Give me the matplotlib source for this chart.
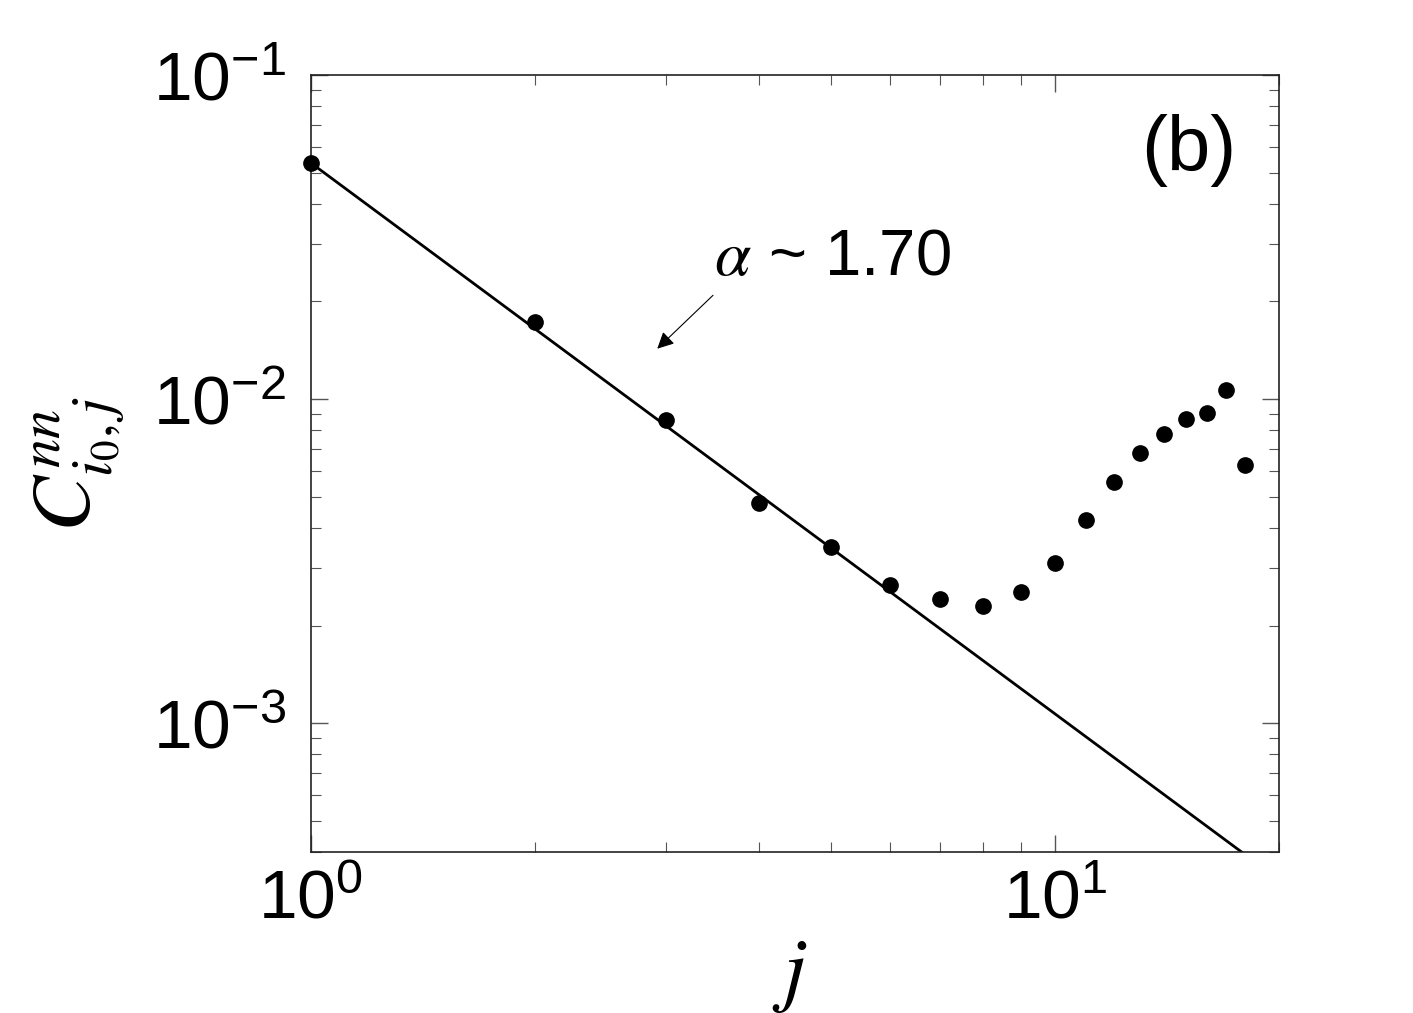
import matplotlib
matplotlib.use("Agg")
import matplotlib.pyplot as plt
import numpy as np

plt.rcParams['font.family'] = ['Liberation Sans', 'DejaVu Sans']
plt.rcParams['mathtext.fontset'] = 'custom'
plt.rcParams['mathtext.rm'] = 'Liberation Sans'
plt.rcParams['mathtext.it'] = 'Liberation Sans:italic'

# data
j = [1, 2, 3, 4, 5, 6, 7, 8, 9, 10, 11, 12, 13, 14, 15, 16, 17, 18]
corr = [0.0535, 0.01732, 0.00860, 0.00477, 0.00350, 0.00267, 0.00242,
        0.00229, 0.00254, 0.00311, 0.00422, 0.00553, 0.00680, 0.00778,
        0.00868, 0.00907, 0.01064, 0.00624]

# power-law fit C ~ A * j^-alpha
fit_amp = 0.0535
fit_alpha = 1.70
fit_j = np.array([1.0, 18.0])

fig = plt.figure(figsize=(14.13, 10.13), dpi=100)
ax = fig.add_axes([311 / 1413, 1 - 852 / 1013, (1279 - 311) / 1413, (852 - 75) / 1013])

ax.plot(fit_j, fit_amp * fit_j ** (-fit_alpha), color='black', linewidth=2.0, zorder=2)
ax.plot(j, corr, 'o', color='black', markersize=11, zorder=3, clip_on=False)

ax.set_xscale('log')
ax.set_yscale('log')
ax.set_xlim(1, 20)
ax.set_ylim(4e-4, 1e-1)

ax.tick_params(which='both', direction='in', top=True, right=True,
               color='#555555', labelsize=50)
ax.tick_params(which='major', length=12, width=1.0)
ax.tick_params(which='minor', length=7, width=0.8)
ax.tick_params(axis='y', pad=18)
ax.tick_params(axis='x', pad=12)
for s in ax.spines.values():
    s.set_linewidth(1.2)
    s.set_color('#222222')

ax.set_ylabel(r'$C^{nn}_{i_0,j}$', fontsize=60, math_fontfamily='stix')
ax.yaxis.set_label_coords(-0.19, 0.5)
ax.set_xlabel(r'$j$', fontsize=60, math_fontfamily='stix')
ax.xaxis.set_label_coords(0.495, -0.11)

ax.text(3.48, 0.0272, r'$\alpha$ ~ 1.70', fontsize=47, va='center', ha='left',
        math_fontfamily='stix')
ax.annotate('', xy=(2.92, 0.0143), xytext=(3.47, 0.0209),
            arrowprops=dict(arrowstyle='-|>', color='black', lw=0.8,
                            mutation_scale=25, shrinkA=0, shrinkB=0))
ax.text(13.05, 0.0586, '(b)', fontsize=56, va='center', ha='left')

fig.savefig('out.png', dpi=100)
